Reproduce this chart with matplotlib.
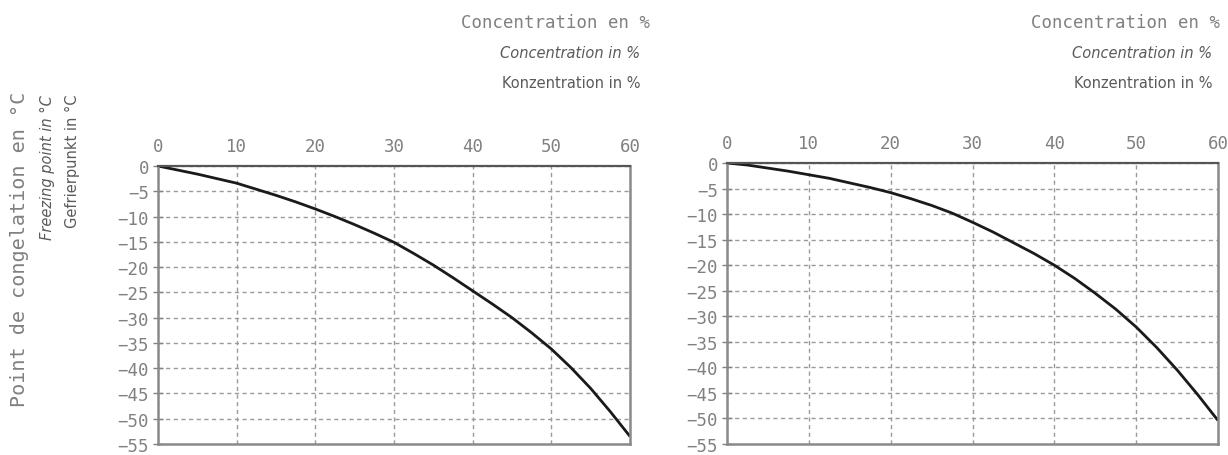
import numpy as np
import matplotlib
matplotlib.use("Agg")
import matplotlib.pyplot as plt

# concentration (%) vs freezing point (degC)
conc = [0, 2.5, 5, 7.5, 10, 12.5, 15, 17.5, 20, 22.5, 25, 27.5, 30, 32.5, 35, 37.5,
        40, 42.5, 45, 47.5, 50, 52.5, 55, 57.5, 60]
freeze_left = [0, -0.8, -1.6, -2.5, -3.4, -4.6, -5.8, -7.1, -8.5, -10.0, -11.6, -13.3,
               -15.1, -17.3, -19.6, -22.1, -24.7, -27.3, -30.0, -33.0, -36.2, -39.9,
               -44.0, -48.6, -53.5]
freeze_right = [0, -0.4, -1.0, -1.6, -2.3, -3.0, -3.9, -4.8, -5.8, -7.0, -8.3, -9.8,
                -11.6, -13.5, -15.6, -17.7, -20.0, -22.6, -25.5, -28.6, -32.1, -36.1,
                -40.5, -45.3, -50.4]

x_ticks = [0, 10, 20, 30, 40, 50, 60]
y_ticks = [0, -5, -10, -15, -20, -25, -30, -35, -40, -45, -50, -55]
y_labels = ["0"] + ["\u2212" + str(-v) for v in y_ticks[1:]]

title_lines = ["Concentration en %", "Concentration in %", "Konzentration in %"]
ylab_lines = ["Point de congelation en \u00b0C", "Freezing point in \u00b0C", "Gefrierpunkt in \u00b0C"]

W, H = 1228, 456
GREY = "#808080"
DARK = "#5a5a5a"
NARROW = ["Liberation Sans Narrow", "DejaVu Sans"]
MONO = ["DejaVu Sans Mono"]

fig = plt.figure(figsize=(W / 100, H / 100), dpi=100)
fig.patch.set_facecolor("white")


def px_axes(x0, x1, ytop, ybot):
    return fig.add_axes([x0 / W, 1 - ybot / H, (x1 - x0) / W, (ybot - ytop) / H])


panels = [
    (px_axes(158, 630, 167, 445), freeze_left, 650, 640),
    (px_axes(727, 1218, 164, 445), freeze_right, 1220, 1212),
]

for ax, vals, xr_main, xr_sub in panels:
    ax.plot(conc, vals, color="#1a1a1a", lw=2.0, solid_capstyle="butt")
    ax.set_xlim(0, 60)
    ax.set_ylim(-55, 0)
    ax.set_xticks(x_ticks)
    ax.set_yticks(y_ticks)
    ax.set_yticklabels(y_labels)
    ax.xaxis.tick_top()
    ax.tick_params(axis="x", length=0, pad=8, labelsize=12.5, labelcolor=GREY)
    ax.tick_params(axis="y", length=7, width=1, color=GREY, pad=3, labelsize=12.5,
                   labelcolor=GREY, direction="inout")
    for lab in ax.get_xticklabels() + ax.get_yticklabels():
        lab.set_family(MONO)
    ax.grid(True, ls=(0, (3, 2.5)), color="#9a9a9a", lw=1.0)
    for side in ["left", "bottom", "right"]:
        ax.spines[side].set_color("#8a8a8a")
        ax.spines[side].set_linewidth(1.8)
    ax.spines["top"].set_color("#555555")
    ax.spines["top"].set_linewidth(1.6)

    # stacked axis title above the top-right corner
    fig.text(xr_main / W, 1 - 23 / H, title_lines[0], ha="right", va="center",
             family=MONO, fontsize=12.5, color=GREY)
    fig.text(xr_sub / W, 1 - 54 / H, title_lines[1], ha="right", va="center",
             family=NARROW, style="italic", fontsize=10.5, color=DARK)
    fig.text(xr_sub / W, 1 - 83 / H, title_lines[2], ha="right", va="center",
             family=NARROW, fontsize=10.5, color=DARK)

# three stacked y labels left of the first chart
fig.text(20 / W, 1 - 92 / H, ylab_lines[0], rotation=90, ha="center", va="top",
         family=MONO, fontsize=14.5, color=GREY)
fig.text(47 / W, 1 - 95 / H, ylab_lines[1], rotation=90, ha="center", va="top",
         family=NARROW, style="italic", fontsize=10.5, color=DARK)
fig.text(72 / W, 1 - 95 / H, ylab_lines[2], rotation=90, ha="center", va="top",
         family=NARROW, fontsize=10.5, color=DARK)

fig.savefig("out.png", dpi=100)
